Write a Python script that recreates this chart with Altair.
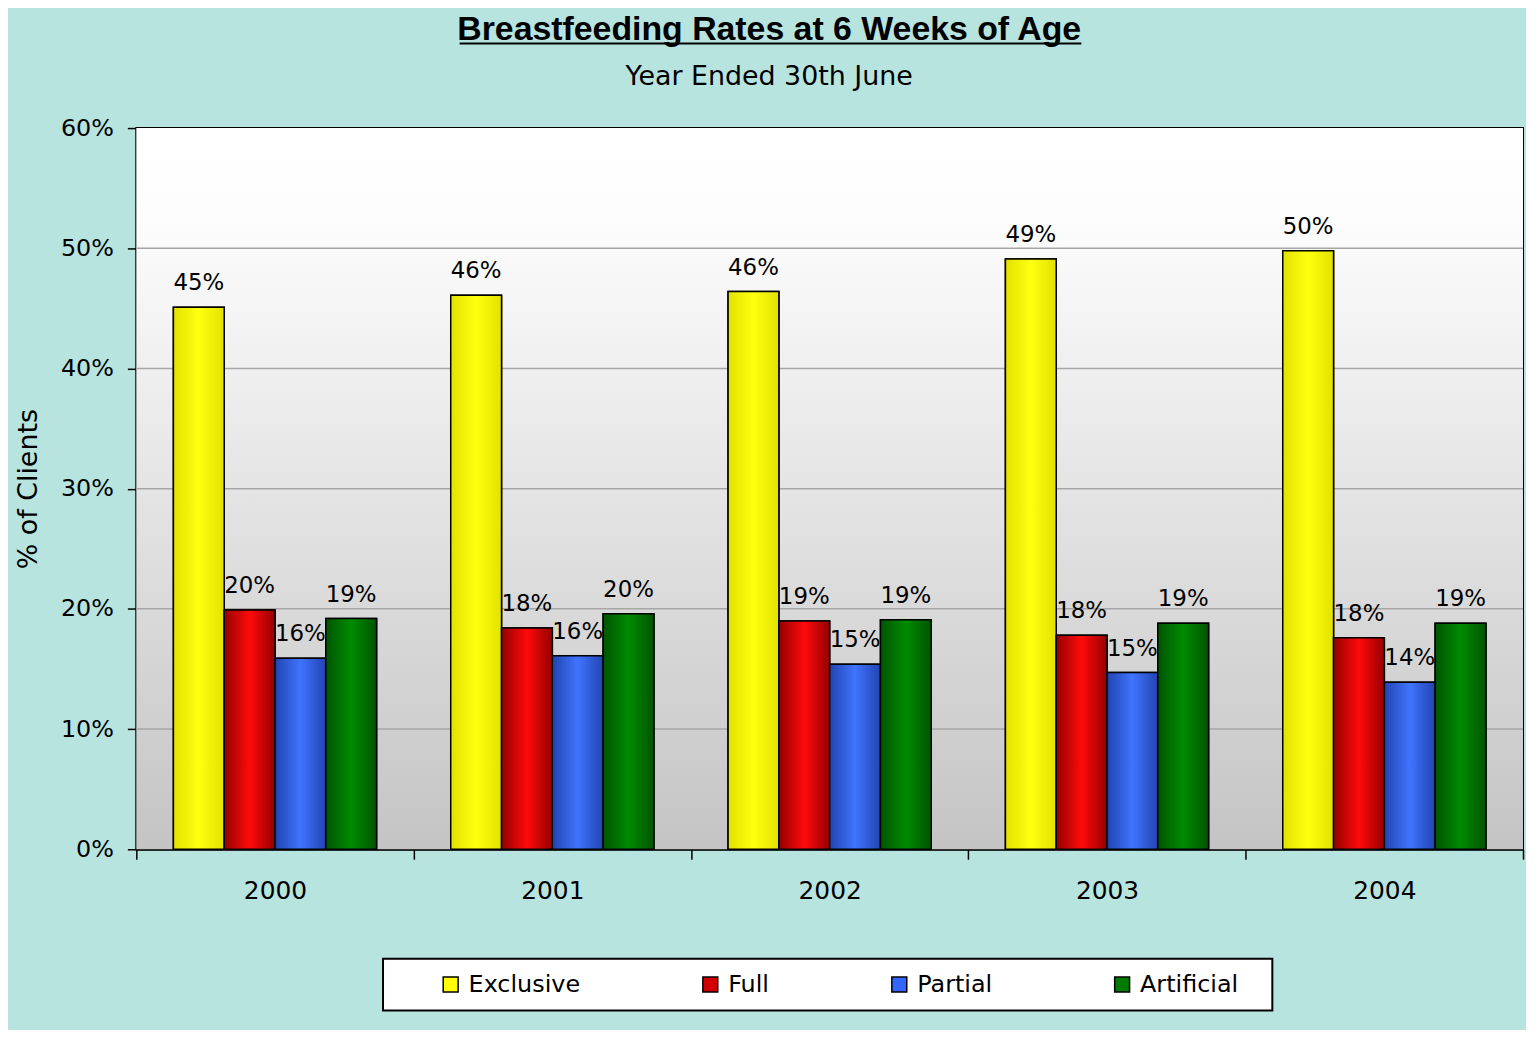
import altair as alt
import pandas as pd

years = ["2000", "2001", "2002", "2003", "2004"]
series = ["Exclusive", "Full", "Partial", "Artificial"]
exclusive = [45.1, 46.1, 46.4, 49.1, 49.8]
full = [19.9, 18.4, 19.0, 17.8, 17.6]
partial = [15.9, 16.1, 15.4, 14.7, 13.9]
artificial = [19.2, 19.6, 19.1, 18.8, 18.8]
y_ticks = [0, 0.1, 0.2, 0.3, 0.4, 0.5, 0.6]
grid_values = [0.1, 0.2, 0.3, 0.4, 0.5]
legend_colors = ["#ffff00", "#d00000", "#3366ff", "#007a00"]
bar_edges = ["#e2e200", "#950000", "#2244b0", "#005400"]
bar_centres = ["#ffff10", "#ff0a0a", "#3f74ff", "#008c00"]

rows = []
for s, vals in zip(series, [exclusive, full, partial, artificial]):
    for yr, v in zip(years, vals):
        rows.append({"Year": yr, "Type": s, "Value": v / 100})
df = pd.DataFrame(rows)

W, H = 1394, 725
SANS = "Liberation Sans, Arial, sans-serif"
WIDE = "DejaVu Sans, Verdana, sans-serif"

x_enc = alt.X(
    "Year:N", sort=years,
    scale=alt.Scale(paddingInner=0, paddingOuter=0),
    axis=alt.Axis(title=None, labelFont=WIDE, labelFontSize=25, labelColor="black",
                  labelPadding=19, tickSize=10, tickBand="extent", tickColor="black",
                  tickWidth=1.5, domainColor="black", domainWidth=2, labelAngle=0),
)
xoff = alt.XOffset("Type:N", sort=series,
                   scale=alt.Scale(domain=series, paddingInner=0, paddingOuter=0.73))
y_enc = alt.Y(
    "Value:Q",
    scale=alt.Scale(domain=[0, 0.6], nice=False, zero=True),
    axis=alt.Axis(title="% of Clients", values=y_ticks, format=".0%", grid=False,
                  labelFont=WIDE, labelFontSize=24, labelColor="black", labelPadding=14,
                  tickSize=9, tickColor="black", tickWidth=1.5, domainColor="black",
                  domainWidth=2, titleFont=WIDE, titleFontSize=27, titleFontWeight="normal",
                  titleColor="black", titlePadding=18),
)

background = alt.Chart(alt.Data(values=[{}])).mark_rect(
    color=alt.Gradient(gradient="linear", x1=0, y1=0, x2=0, y2=1,
                       stops=[alt.GradientStop(offset=0, color="#ffffff"),
                              alt.GradientStop(offset=0.12, color="#fdfdfd"),
                              alt.GradientStop(offset=1, color="#c4c4c4")])
).encode(x=alt.value(0), x2=alt.value(W), y=alt.value(0), y2=alt.value(H))

grid = alt.Chart(pd.DataFrame({"Value": grid_values})).mark_rule(
    color="#a6a6a6", strokeWidth=1.5).encode(y=y_enc)

# legend frame (white box with black border below the plot)
legend_box = alt.Chart(alt.Data(values=[{}])).mark_rect(
    fill="white", stroke="black", strokeWidth=2
).encode(x=alt.value(248), x2=alt.value(1142), y=alt.value(835), y2=alt.value(887))

base = alt.Chart(df).mark_bar(stroke="black", strokeWidth=1.5).encode(
    x=x_enc, xOffset=xoff, y=y_enc,
    color=alt.Color("Type:N", sort=series,
                    scale=alt.Scale(domain=series, range=legend_colors),
                    legend=alt.Legend(title=None, orient="none", legendX=304, legendY=849,
                                      direction="horizontal", columns=4,
                                      padding=0, columnPadding=118,
                                      symbolType="square", symbolSize=225,
                                      symbolStrokeColor="black", symbolStrokeWidth=1.5,
                                      labelFont=WIDE, labelFontSize=24, labelColor="black",
                                      labelOffset=6)),
)

overlays = []
for s, edge, centre in zip(series, bar_edges, bar_centres):
    overlays.append(
        alt.Chart(df).transform_filter(alt.datum.Type == s).mark_bar(
            stroke="black", strokeWidth=1.5,
            color=alt.Gradient(gradient="linear", x1=0, y1=0, x2=1, y2=0,
                               stops=[alt.GradientStop(offset=0, color=edge),
                                      alt.GradientStop(offset=0.5, color=centre),
                                      alt.GradientStop(offset=1, color=edge)]),
        ).encode(x=x_enc, xOffset=xoff, y=y_enc)
    )

labels = alt.Chart(df).mark_text(
    baseline="bottom", dy=-12, font=WIDE, fontSize=23, color="black"
).encode(x=x_enc, xOffset=xoff, y=y_enc, text=alt.Text("Value:Q", format=".0%"))

underline = alt.Chart(alt.Data(values=[{}])).mark_rule(color="black", strokeWidth=2).encode(
    x=alt.value(325), x2=alt.value(950), y=alt.value(-85))

chart = alt.layer(background, grid, legend_box, base, *overlays, labels, underline).properties(
    width=W, height=H,
    title=alt.TitleParams(
        text="Breastfeeding Rates at 6 Weeks of Age",
        subtitle="Year Ended 30th June",
        anchor="middle", frame="bounds",
        font=SANS, fontSize=34, fontWeight="bold", color="black",
        subtitleFont=WIDE, subtitleFontSize=27, subtitleColor="black",
        subtitlePadding=18, offset=-48,
    ),
    padding={"left": 6, "top": 2, "right": 2, "bottom": 16},
    background="#b8e4e0",
).configure_view(stroke="black", strokeWidth=2)

chart.save("out.html", embed_options={"renderer": "svg", "actions": False})
